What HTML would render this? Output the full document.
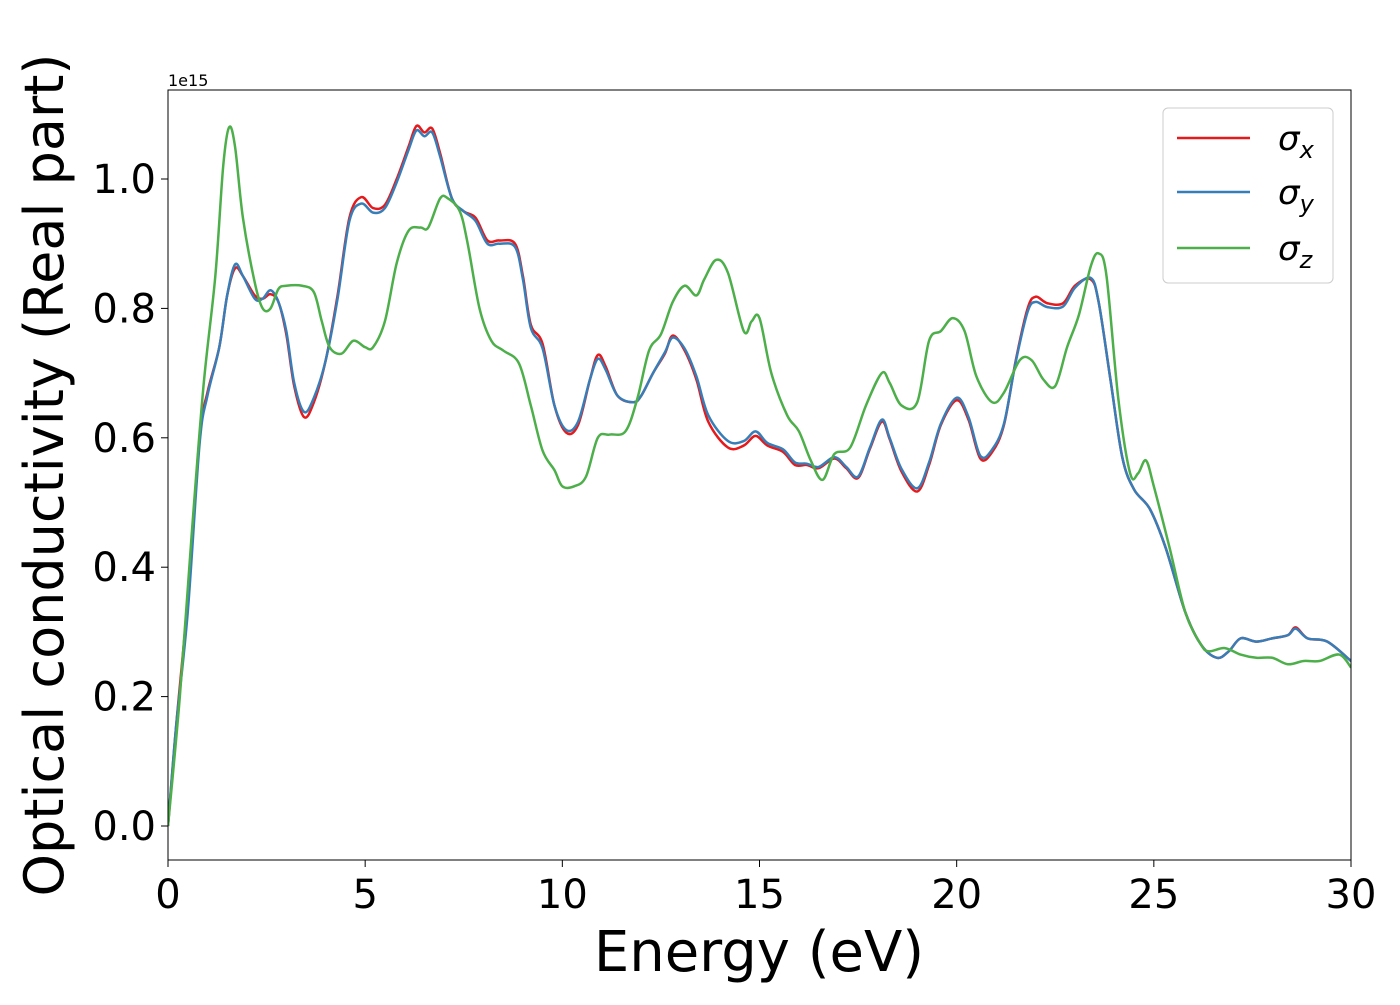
<!DOCTYPE html>
<html><head><meta charset="utf-8">
<style>
body{margin:0;background:#fff;}
svg{font-family:"DejaVu Sans","Liberation Sans",sans-serif;}
</style></head>
<body>
<svg id="chart" width="1400" height="1000" viewBox="0 0 1400 1000" xmlns="http://www.w3.org/2000/svg">
<rect width="1400" height="1000" fill="#fff"/>
<g id="plot"></g>
</svg>
<script>
const xTicks=[0,5,10,15,20,25,30];
const xTickLabels=["0","5","10","15","20","25","30"];
const yTicks=[0,0.2,0.4,0.6,0.8,1.0];
const yTickLabels=["0.0","0.2","0.4","0.6","0.8","1.0"];
const energyXY=[0,0.2,0.5,0.8,1.0,1.3,1.5,1.7,1.9,2.2,2.4,2.6,2.8,3.0,3.2,3.45,3.7,4.0,4.3,4.6,4.9,5.2,5.5,5.8,6.1,6.3,6.5,6.7,6.9,7.2,7.5,7.8,8.1,8.4,8.8,9.0,9.2,9.5,9.8,10.1,10.4,10.7,10.9,11.1,11.4,11.8,12.0,12.3,12.6,12.8,13.1,13.4,13.7,14.2,14.6,14.9,15.2,15.6,15.9,16.2,16.5,16.9,17.2,17.5,17.8,18.1,18.3,18.6,19.0,19.3,19.6,20.0,20.3,20.6,20.9,21.2,21.5,21.8,22.0,22.3,22.7,23.0,23.4,23.6,23.9,24.2,24.5,24.9,25.3,25.8,26.2,26.6,26.9,27.2,27.6,28.0,28.4,28.6,28.9,29.4,30];
const sigmaX=[0,0.15,0.35,0.6,0.67,0.74,0.82,0.862,0.85,0.82,0.815,0.822,0.81,0.76,0.68,0.632,0.655,0.72,0.82,0.94,0.972,0.955,0.96,1.0,1.05,1.082,1.072,1.078,1.04,0.97,0.95,0.94,0.905,0.905,0.9,0.85,0.775,0.745,0.65,0.608,0.62,0.69,0.728,0.71,0.665,0.655,0.665,0.70,0.73,0.758,0.735,0.69,0.625,0.585,0.588,0.603,0.588,0.578,0.558,0.558,0.553,0.568,0.553,0.538,0.583,0.625,0.598,0.548,0.517,0.558,0.62,0.658,0.628,0.568,0.578,0.62,0.72,0.80,0.818,0.808,0.808,0.835,0.845,0.81,0.69,0.57,0.52,0.49,0.43,0.33,0.28,0.26,0.27,0.29,0.285,0.29,0.295,0.307,0.29,0.285,0.255];
const sigmaY=[0,0.15,0.33,0.59,0.665,0.74,0.82,0.868,0.85,0.815,0.815,0.828,0.81,0.765,0.685,0.64,0.662,0.72,0.815,0.935,0.962,0.948,0.955,0.995,1.045,1.075,1.066,1.072,1.035,0.97,0.95,0.935,0.9,0.9,0.895,0.845,0.77,0.738,0.65,0.612,0.625,0.69,0.722,0.705,0.665,0.655,0.665,0.70,0.732,0.755,0.738,0.695,0.635,0.595,0.595,0.61,0.592,0.582,0.562,0.56,0.555,0.57,0.555,0.54,0.585,0.628,0.6,0.552,0.522,0.562,0.622,0.662,0.632,0.572,0.582,0.622,0.718,0.795,0.81,0.802,0.803,0.832,0.847,0.81,0.69,0.57,0.52,0.49,0.43,0.33,0.28,0.26,0.27,0.29,0.285,0.29,0.295,0.305,0.29,0.285,0.255];
const energyZ=[0,0.3,0.6,0.9,1.2,1.4,1.55,1.7,1.9,2.2,2.4,2.6,2.8,3.0,3.4,3.7,3.9,4.1,4.4,4.7,5.0,5.2,5.5,5.8,6.1,6.4,6.6,6.9,7.1,7.4,7.6,7.9,8.2,8.5,8.9,9.2,9.5,9.8,10.0,10.3,10.6,10.9,11.2,11.6,11.9,12.2,12.5,12.8,13.1,13.4,13.6,13.9,14.2,14.6,14.8,15.0,15.3,15.7,16.0,16.3,16.6,16.9,17.3,17.7,18.1,18.3,18.6,19.0,19.3,19.6,19.9,20.2,20.5,20.9,21.2,21.6,21.9,22.2,22.5,22.8,23.1,23.4,23.6,23.8,24.1,24.4,24.6,24.8,25.0,25.4,25.8,26.2,26.4,26.8,27.2,27.6,28.0,28.4,28.8,29.2,29.7,30];
const sigmaZ=[0,0.2,0.45,0.68,0.85,1.02,1.08,1.05,0.94,0.84,0.80,0.80,0.83,0.835,0.835,0.825,0.78,0.74,0.73,0.75,0.74,0.74,0.78,0.87,0.92,0.925,0.925,0.97,0.97,0.95,0.90,0.80,0.75,0.735,0.715,0.65,0.58,0.55,0.525,0.525,0.54,0.60,0.605,0.61,0.66,0.735,0.76,0.81,0.835,0.82,0.845,0.875,0.855,0.765,0.78,0.785,0.70,0.635,0.61,0.565,0.535,0.575,0.585,0.65,0.70,0.685,0.65,0.655,0.75,0.765,0.785,0.765,0.695,0.655,0.67,0.72,0.72,0.69,0.68,0.74,0.79,0.865,0.885,0.85,0.66,0.545,0.545,0.565,0.525,0.43,0.33,0.28,0.27,0.275,0.265,0.26,0.26,0.25,0.255,0.255,0.265,0.245];

const L=168,R=1351,T=90,B=860;
const X=v=>L+(v-0)/(30-0)*(R-L);
const Y=v=>826-v*647;
const NS="http://www.w3.org/2000/svg";
const g=document.getElementById('plot');
function mk(tag,attrs,parent){const e=document.createElementNS(NS,tag);for(const k in attrs)e.setAttribute(k,attrs[k]);(parent||g).appendChild(e);return e;}
function pathD(xs,ys){
  const p=xs.map((x,i)=>[X(x),Y(ys[i])]);
  let d=`M${p[0][0]},${p[0][1]}`;
  for(let i=0;i<p.length-1;i++){
    const p0=p[i-1]||p[i],p1=p[i],p2=p[i+1],p3=p[i+2]||p2;
    const c1=[p1[0]+(p2[0]-p0[0])/6,p1[1]+(p2[1]-p0[1])/6];
    const c2=[p2[0]-(p3[0]-p1[0])/6,p2[1]-(p3[1]-p1[1])/6];
    d+=`C${c1[0]},${c1[1]} ${c2[0]},${c2[1]} ${p2[0]},${p2[1]}`;
  }
  return d;
}
const clip=mk('clipPath',{id:'cp'});mk('rect',{x:L,y:T,width:R-L,height:B-T},clip);
const series=[[energyXY,sigmaX,'#e41a1c','series-sigma-x'],[energyXY,sigmaY,'#377eb8','series-sigma-y'],[energyZ,sigmaZ,'#4daf4a','series-sigma-z']];
series.forEach(s=>{
  const e=mk('path',{d:pathD(s[0],s[1]),fill:'none',stroke:s[2],'stroke-width':2.5,'clip-path':'url(#cp)'});
  
  
});
const frame=mk('rect',{x:L,y:T,width:R-L,height:B-T,fill:'none',stroke:'#000','stroke-width':1});


xTicks.forEach((v,i)=>{
  mk('line',{x1:X(v),x2:X(v),y1:B,y2:B+7,stroke:'#000'});
  const t=mk('text',{x:X(v),y:B+48,'text-anchor':'middle','font-size':40});
  t.textContent=xTickLabels[i];
  
  
});
yTicks.forEach((v,i)=>{
  mk('line',{x1:L-7,x2:L,y1:Y(v),y2:Y(v),stroke:'#000'});
  const t=mk('text',{x:L-12,y:Y(v)+14,'text-anchor':'end','font-size':40});
  t.textContent=yTickLabels[i];
  
  
});
</script>
<svg style="position:absolute;left:0;top:0" width="1400" height="1000" xmlns="http://www.w3.org/2000/svg">
<text x="168" y="86" font-size="16" font-family="DejaVu Sans,sans-serif">1e15</text>
<text x="759" y="971" text-anchor="middle" font-size="56" font-family="DejaVu Sans,sans-serif">Energy (eV)</text>
<text transform="translate(63,475) rotate(-90)" text-anchor="middle" font-size="54" font-family="DejaVu Sans,sans-serif">Optical conductivity (Real part)</text>
<g>
<rect x="1163" y="108" width="170" height="175" rx="5" fill="#fff" fill-opacity="0.8" stroke="#ccc"/>
<line x1="1177" y1="138" x2="1250" y2="138" stroke="#e41a1c" stroke-width="2.5"/>
<text x="1278" y="150" font-size="34" font-family="DejaVu Sans,sans-serif" font-style="italic">σ<tspan font-size="24" dy="8">x</tspan></text>
<line x1="1177" y1="192" x2="1250" y2="192" stroke="#377eb8" stroke-width="2.5"/>
<text x="1278" y="204" font-size="34" font-family="DejaVu Sans,sans-serif" font-style="italic">σ<tspan font-size="24" dy="8">y</tspan></text>
<line x1="1177" y1="248" x2="1250" y2="248" stroke="#4daf4a" stroke-width="2.5"/>
<text x="1278" y="260" font-size="34" font-family="DejaVu Sans,sans-serif" font-style="italic">σ<tspan font-size="24" dy="8">z</tspan></text>
</g>
</svg>
</body></html>
